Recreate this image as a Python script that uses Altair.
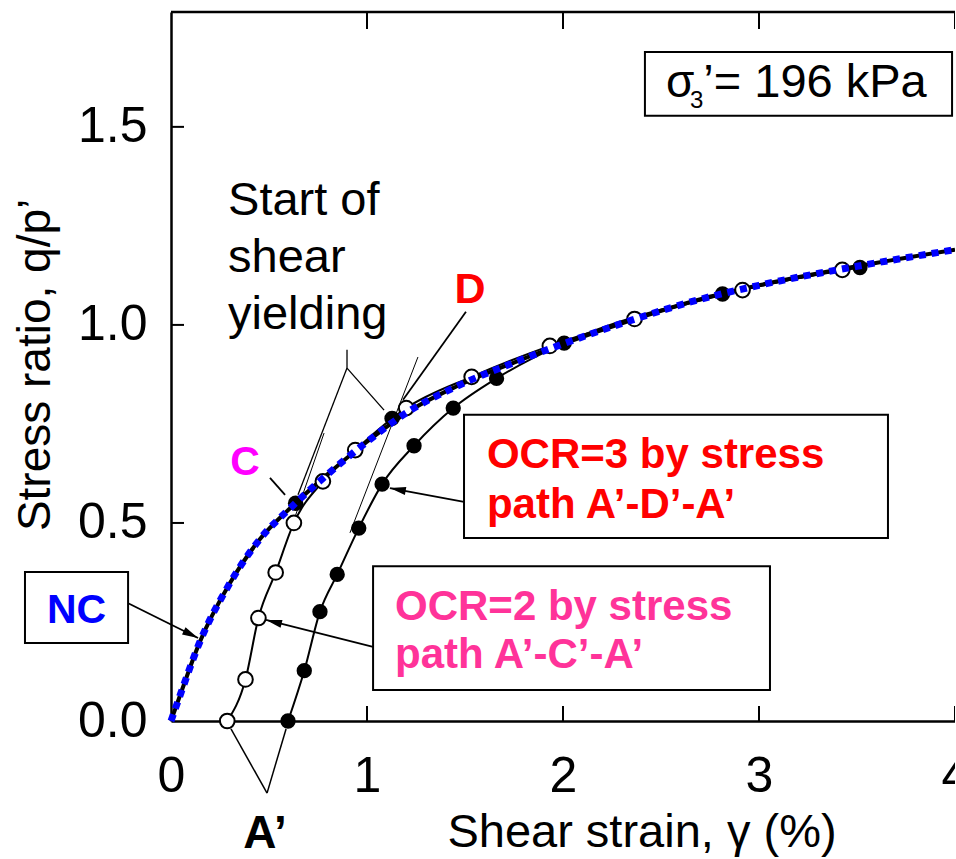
import math
import altair as alt
import pandas as pd

FONT = "Liberation Sans"

# ---- data -------------------------------------------------------------
# Normally consolidated (NC) stress-ratio / shear-strain curve
nc_x = [0, 0.05, 0.144, 0.297, 0.45, 0.62, 0.797, 1.0, 1.204, 1.458, 1.75, 2.0, 2.35, 2.687, 3.0, 3.5, 4.0]
nc_y = [0, 0.07, 0.196, 0.345, 0.457, 0.543, 0.622, 0.705, 0.779, 0.845, 0.905, 0.952, 1.012, 1.063, 1.10, 1.148, 1.19]

# OCR = 2 (path A'-C'-A'), open circles
ocr2_x = [0.287, 0.38, 0.446, 0.534, 0.627, 0.775, 0.94, 1.20, 1.534, 1.933, 2.365, 2.916, 3.425]
ocr2_y = [0, 0.105, 0.26, 0.375, 0.50, 0.605, 0.684, 0.79, 0.869, 0.947, 1.015, 1.088, 1.139]

# OCR = 3 (path A'-D'-A'), filled circles
ocr3_x = [0.597, 0.68, 0.76, 0.848, 0.958, 1.077, 1.24, 1.44, 1.661, 2.006, 2.814, 3.515]
ocr3_y = [0, 0.127, 0.276, 0.37, 0.487, 0.598, 0.695, 0.79, 0.865, 0.954, 1.078, 1.145]

# yield points C and D on the NC curve
yield_x = [0.636, 1.128]
yield_y = [0.55, 0.764]

x_ticks = [0, 1, 2, 3, 4]
y_ticks = [0.0, 0.5, 1.0, 1.5]

# leader lines (x1, y1, x2, y2) in data units; arrow flag draws a head at (x2, y2)
seg_x1 = [-0.221, 1.031, 1.495, 1.505, 0.505, 0.898, 0.898, 0.898, 0.781, 1.26, 0.49, 0.49]
seg_y1 = [0.298, 0.187, 0.553, 1.033, 0.614, 0.937, 0.891, 0.891, 0.727, 0.919, -0.182, -0.182]
seg_x2 = [0.138, 0.485, 1.117, 1.184, 0.582, 0.898, 0.648, 1.087, 0.622, 0.913, 0.306, 0.587]
seg_y2 = [0.2096, 0.255, 0.588, 0.811, 0.571, 0.891, 0.571, 0.785, 0.5, 0.475, -0.02, -0.02]
seg_w = [1.8, 1.8, 1.8, 1.8, 1.8, 1.3, 1.3, 1.3, 1.0, 1.0, 1.5, 1.5]
seg_arrow = [True, True, True, False, False, False, False, False, False, False, False, False]

# label boxes
box_x1 = [-0.745, 1.495, 1.031, 2.418]
box_x2 = [-0.219, 3.658, 3.056, 3.985]
box_y1 = [0.197, 0.462, 0.078, 1.528]
box_y2 = [0.376, 0.773, 0.391, 1.689]

# ---- layout -----------------------------------------------------------
W, H = 784, 709
XMAX, YMAX = 4.0, 1.79
PX_X, PX_Y = W / XMAX, H / YMAX

xs = alt.Scale(domain=[0, XMAX], nice=False, zero=False)
ys = alt.Scale(domain=[0, YMAX], nice=False, zero=False)

x_axis = alt.Axis(values=x_ticks, format="d", title=None, grid=False, ticks=False,
                  domainColor="black", domainWidth=2.5, labelFont=FONT, labelFontSize=50,
                  labelColor="black", labelPadding=30, labelFlush=False, labelOverlap=False)
y_axis = alt.Axis(values=y_ticks, format=".1f", title=None, grid=False, ticks=False,
                  domainColor="black", domainWidth=2.5, labelFont=FONT, labelFontSize=50,
                  labelColor="black", labelPadding=24, labelOverlap=False)


def X(field="x"):
    return alt.X(f"{field}:Q", scale=xs, axis=x_axis)


def Y(field="y"):
    return alt.Y(f"{field}:Q", scale=ys, axis=y_axis)


nc = pd.DataFrame({"x": nc_x, "y": nc_y})
o2 = pd.DataFrame({"x": ocr2_x, "y": ocr2_y})
o3 = pd.DataFrame({"x": ocr3_x, "y": ocr3_y})
yp = pd.DataFrame({"x": yield_x, "y": yield_y})

nc_black = alt.Chart(nc).mark_line(color="black", strokeWidth=4, interpolate="monotone").encode(x=X(), y=Y())
o2_line = alt.Chart(o2).mark_line(color="black", strokeWidth=2, interpolate="monotone").encode(x=X(), y=Y())
o3_line = alt.Chart(o3).mark_line(color="black", strokeWidth=2, interpolate="monotone").encode(x=X(), y=Y())
nc_blue = alt.Chart(nc).mark_line(color="#0000FF", strokeWidth=7, strokeDash=[7, 6],
                                  interpolate="monotone").encode(x=X(), y=Y())

o2_pts = alt.Chart(o2).mark_point(shape="circle", filled=True, fill="white", stroke="black",
                                  strokeWidth=2, size=215, opacity=1).encode(x=X(), y=Y())
o3_pts = alt.Chart(o3).mark_point(shape="circle", filled=True, color="black", size=235,
                                  opacity=1).encode(x=X(), y=Y())
y_pts = alt.Chart(yp).mark_point(shape="circle", filled=True, color="black", size=240,
                                 opacity=1).encode(x=X(), y=Y())

# frame: top border and inward tick marks
top_line = alt.Chart(pd.DataFrame({"x": [0], "x2": [XMAX], "y": [YMAX]})).mark_rule(
    color="black", strokeWidth=2.5).encode(x=X(), x2="x2:Q", y=Y())
xt = pd.DataFrame({"x": x_ticks[1:]})
bottom_ticks = alt.Chart(xt).mark_rule(color="black", strokeWidth=2).encode(
    x=X(), y=alt.value(H), y2=alt.value(H - 15))
top_ticks = alt.Chart(xt).mark_rule(color="black", strokeWidth=2).encode(
    x=X(), y=alt.value(0), y2=alt.value(17))
left_ticks = alt.Chart(pd.DataFrame({"y": y_ticks[1:]})).mark_rule(color="black", strokeWidth=2).encode(
    y=Y(), x=alt.value(0), x2=alt.value(13))

# leader lines and arrowheads
segs = pd.DataFrame({"x": seg_x1, "y": seg_y1, "x2": seg_x2, "y2": seg_y2, "w": seg_w})
leaders = alt.Chart(segs).mark_rule(color="black").encode(
    x=X(), y=Y(), x2="x2:Q", y2="y2:Q",
    strokeWidth=alt.StrokeWidth("w:Q", scale=None, legend=None))

heads = []
for a, b, c, d, f in zip(seg_x1, seg_y1, seg_x2, seg_y2, seg_arrow):
    if f:
        dx = (c - a) * PX_X
        dy = -(d - b) * PX_Y
        ang = math.degrees(math.atan2(dx, -dy)) % 360
        heads.append({"x": c, "y": d, "ang": ang})
heads_df = pd.DataFrame(heads)
arrowheads = alt.Chart(heads_df).mark_point(
    shape="M0,0L-0.55,2.2L0.55,2.2Z", filled=True, color="black", size=210, opacity=1).encode(
    x=X(), y=Y(), angle=alt.Angle("ang:Q", scale=None))

# boxes
boxes = alt.Chart(pd.DataFrame({"x": box_x1, "x2": box_x2, "y": box_y1, "y2": box_y2})).mark_rect(
    fill="white", stroke="black", strokeWidth=2).encode(x=X(), x2="x2:Q", y=Y(), y2="y2:Q")


def label(x, y, text, size, color="black", bold=False, align="left", angle=0, line_height=None):
    kw = dict(font=FONT, fontSize=size, color=color, align=align, baseline="alphabetic",
              fontWeight="bold" if bold else "normal")
    if angle:
        kw["angle"] = angle
    if line_height:
        kw["lineHeight"] = line_height
        kw["lineBreak"] = "\n"
    return alt.Chart(pd.DataFrame({"x": [x], "y": [y], "t": [text]})).mark_text(**kw).encode(
        x=X(), y=Y(), text="t:N")


texts = [
    label(0.291, 1.278, "Start of\nshear\nyielding", 47, line_height=57),
    label(1.526, 1.056, "D", 43, color="#FF0000", bold=True, align="center"),
    label(0.378, 0.621, "C", 41, color="#FF00FF", bold=True, align="center"),
    label(-0.482, 0.247, "NC", 41, color="#0000FF", bold=True, align="center"),
    label(1.612, 0.639, "OCR=3 by stress", 42, color="#FF0000", bold=True),
    label(1.612, 0.513, "path A’-D’-A’", 42, color="#FF0000", bold=True),
    label(1.143, 0.255, "OCR=2 by stress", 42, color="#FF3399", bold=True),
    label(1.143, 0.134, "path A’-C’-A’", 42, color="#FF3399", bold=True),
    label(2.526, 1.576, "σ", 46),
    label(2.648, 1.548, "3", 24),
    label(2.716, 1.576, "’= 196 kPa", 47),
    label(0.48, -0.321, "A’", 46, bold=True, align="center"),
    label(2.403, -0.318, "Shear strain, γ (%)", 47, align="center"),
    label(-0.617, 0.899, "Stress ratio, q/p’", 46, align="center", angle=270),
]

chart = alt.layer(
    nc_black, o2_line, o3_line, leaders, o2_pts, o3_pts, y_pts, nc_blue,
    top_line, bottom_ticks, top_ticks, left_ticks, boxes, arrowheads, *texts
).properties(
    width=W, height=H,
    autosize=alt.AutoSizeParams(type="none"),
    padding={"left": 171, "top": 12, "right": 0, "bottom": 138},
    background="white",
).configure_view(stroke=None)

chart.save("out.html", embed_options={"renderer": "svg", "actions": False})
